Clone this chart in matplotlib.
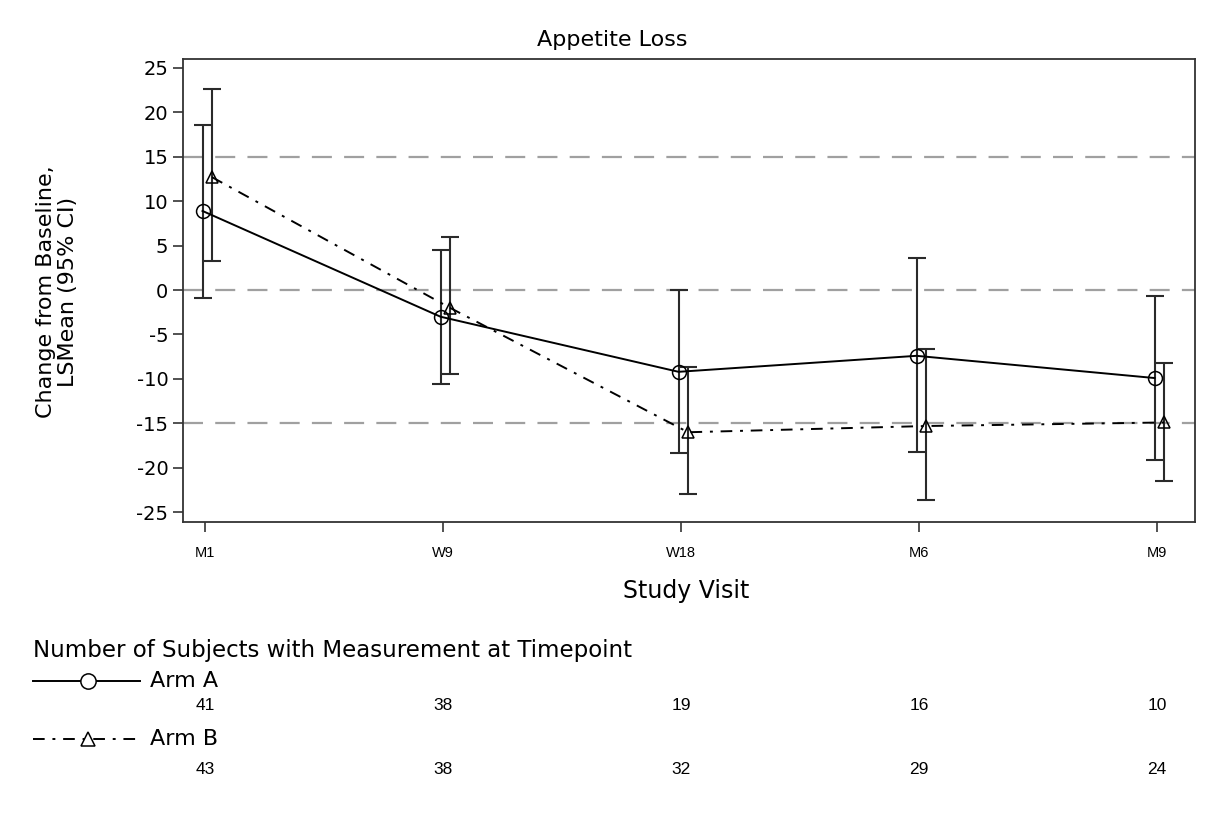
import matplotlib
matplotlib.use("Agg")
import matplotlib.pyplot as plt
from matplotlib.lines import Line2D
import matplotlib.transforms as mtransforms
import numpy as np

plt.rcParams["font.family"] = ["DejaVu Sans"]

# Visits and summary statistics
visits = ["M1", "W9", "W18", "M6", "M9"]

arm_a_mean = [8.9, -3.0, -9.2, -7.4, -9.9]
arm_a_lower = [-0.9, -10.6, -18.3, -18.2, -19.1]
arm_a_upper = [18.6, 4.5, 0.0, 3.6, -0.7]

arm_b_mean = [12.7, -2.0, -16.0, -15.3, -14.9]
arm_b_lower = [3.3, -9.5, -22.9, -23.6, -21.5]
arm_b_upper = [22.6, 6.0, -8.7, -6.6, -8.2]

arm_a_n = [41, 38, 19, 16, 10]
arm_b_n = [43, 38, 32, 29, 24]

ref_lines = [15, 0, -15]
y_ticks = [25, 20, 15, 10, 5, 0, -5, -10, -15, -20, -25]

NARROW = ["Liberation Sans Narrow", "Liberation Sans", "DejaVu Sans"]

W, H = 1209, 827
fig = plt.figure(figsize=(W / 100, H / 100), dpi=100)
ax = fig.add_axes([183 / W, 1 - 522 / H, (1195 - 183) / W, (522 - 59) / H])

x = np.arange(len(visits))
off_a, off_b = -0.01, 0.03

for r in ref_lines:
    ax.axhline(r, color="#a0a0a0", lw=1.6, dashes=(9, 5.5), zorder=1)

def draw_arm(xpos, mean, lo, hi, marker, ls_kwargs):
    mean = np.asarray(mean)
    yerr = np.vstack([mean - np.asarray(lo), np.asarray(hi) - mean])
    ax.errorbar(xpos, mean, yerr=yerr, fmt="none", ecolor="#2a2a2a",
                elinewidth=1.5, capsize=6.5, capthick=1.5, zorder=2)
    ax.plot(xpos, mean, color="black", lw=1.4, zorder=3, **ls_kwargs)
    ax.plot(xpos, mean, linestyle="none", marker=marker, ms=10 if marker == "o" else 9,
            mfc="none", mec="black", mew=1.1, zorder=4)

draw_arm(x + off_a, arm_a_mean, arm_a_lower, arm_a_upper, "o", {"linestyle": "-"})
draw_arm(x + off_b, arm_b_mean, arm_b_lower, arm_b_upper, "^",
         {"dashes": (6, 4, 1.5, 4)})

ax.set_xlim(-0.092, 4.16)
ax.set_ylim(-26.1, 26.0)
ax.set_xticks(x)
ax.set_xticklabels(visits, fontsize=10.5, family=["Liberation Sans", "DejaVu Sans"])
ax.set_yticks(y_ticks)
ax.set_yticklabels([str(v) for v in y_ticks], fontsize=14)
ax.tick_params(axis="both", length=7, width=1.2, color="#333333")
ax.tick_params(axis="x", pad=10)
for s in ax.spines.values():
    s.set_linewidth(1.3)
    s.set_color("#333333")

fig.text(612 / W, 1 - 40 / H, "Appetite Loss", ha="center", va="center", fontsize=16)
fig.text(686 / W, 1 - 591 / H, "Study Visit", ha="center", va="center", fontsize=17)
fig.text(57 / W, 1 - 292 / H, "Change from Baseline,\nLSMean (95% CI)",
         ha="center", va="center", rotation=90, fontsize=16, linespacing=1.15)

# Subject counts table
fig.text(33 / W, 1 - 651 / H, "Number of Subjects with Measurement at Timepoint",
         ha="left", va="center", fontsize=16.5)

def legend_row(y_px, label, marker, ls_kwargs):
    yf = 1 - y_px / H
    fig.add_artist(Line2D([33 / W, 140 / W], [yf, yf], color="black", lw=1.4,
                          transform=fig.transFigure, **ls_kwargs))
    fig.add_artist(Line2D([88 / W], [yf], marker=marker, ms=11 if marker == "o" else 10,
                          mfc="white", mec="black", mew=1.1, linestyle="none",
                          transform=fig.transFigure))
    fig.text(150 / W, yf, label, ha="left", va="center", fontsize=16)

legend_row(681, "Arm A", "o", {"linestyle": "-"})
legend_row(739, "Arm B", "^", {"dashes": (6, 4, 1.5, 4)})

trans = mtransforms.blended_transform_factory(ax.transData, fig.transFigure)
for xi, na, nb in zip(x, arm_a_n, arm_b_n):
    ax.text(xi, 1 - 706 / H, str(na), transform=trans, ha="center", va="center",
            fontsize=12.5, family=["Liberation Sans", "DejaVu Sans"])
    ax.text(xi, 1 - 770 / H, str(nb), transform=trans, ha="center", va="center",
            fontsize=12.5, family=["Liberation Sans", "DejaVu Sans"])

fig.savefig("out.png", dpi=100)
